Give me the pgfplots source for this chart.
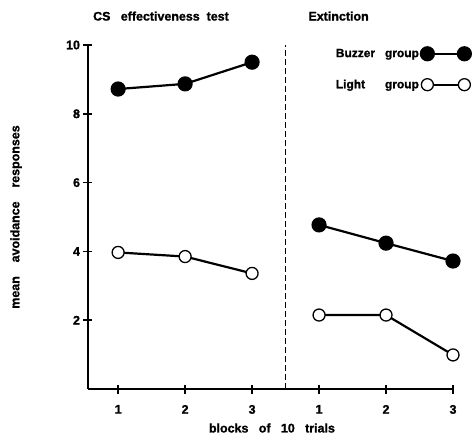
\documentclass[border=0pt]{standalone}
\usepackage{fontspec}
\setmainfont{Liberation Sans}[UprightFont={* Bold}, BoldFont={* Bold}, FakeBold=1.2]
\usepackage{pgfplots}
\pgfplotsset{compat=1.18}
\usetikzlibrary{calc}

\begin{document}
\begin{tikzpicture}
\begin{axis}[
  scale only axis, width=365bp, height=344bp,
  xmin=0.55, xmax=6, ymin=0, ymax=10,
  axis lines*=left, axis line style={line width=2.2pt, -},
  xtick={1,...,6}, xticklabels={1,2,3,1,2,3},
  ytick={2,4,6,8,10},
  tick align=center, major tick length=9bp, tick style={line width=1.6pt, black},
  ticklabel style={font=\fontsize{12.5}{12.5}\selectfont},
  /pgf/number format/assume math mode=true,
  xticklabel style={yshift=-8bp},
  ylabel={mean\ \ \ \ avoidance\ \ \ \ responses},
  ylabel style={font=\fontsize{12.5}{12.5}\selectfont, at={(rel axis cs:-0.197,0.5)}, anchor=center},
  xlabel={blocks\ \ \ of\ \ \ 10\ \ \ trials},
  xlabel style={font=\fontsize{12.5}{12.5}\selectfont, at={(rel axis cs:0.504,0)}, yshift=-39bp, anchor=center},
  clip=false,
  legend style={draw=none, fill=none, inner sep=0pt, at={(axis cs:6.27,9.95)}, anchor=north east,
    font=\fontsize{12}{12}\selectfont, row sep=17bp, cells={anchor=west}},
  legend plot pos=right,
  legend image code/.code={\hspace*{3bp}\draw[#1] plot coordinates {(3bp,0bp) (40bp,0bp)};},
]
\addplot[black, line width=2.2pt, mark=*, mark size=6.5bp, mark options={solid, fill=black}]
  coordinates {(1,8.72) (2,8.87) (3,9.50)};
\addlegendentry{Buzzer\ \ \ group}
\addplot[black, line width=2.2pt, mark=*, mark size=6bp, mark options={solid, fill=white, line width=1.3pt}]
  coordinates {(1,3.97) (2,3.85) (3,3.36)};
\addlegendentry{Light\ \ \ \ \ \ group}
\addplot[black, line width=2.2pt, mark=*, mark size=6.5bp, mark options={solid, fill=black}, forget plot]
  coordinates {(4,4.77) (5,4.24) (6,3.72)};
\addplot[black, line width=2.2pt, mark=*, mark size=6bp, mark options={solid, fill=white, line width=1.3pt}, forget plot]
  coordinates {(4,2.15) (5,2.15) (6,0.99)};
\draw[dashed, line width=0.9pt, dash pattern=on 6bp off 3bp] (axis cs:3.5,0) -- (axis cs:3.5,10);
\node[font=\fontsize{12.5}{12.5}\selectfont] at (axis cs:1.64,10.84) {CS\ \ \ effectiveness\ \ test};
\node[font=\fontsize{12.5}{12.5}\selectfont, anchor=west] at (axis cs:3.79,10.84) {Extinction};
\coordinate (bl) at (rel axis cs:0,0);
\end{axis}
\pgfresetboundingbox
\path[use as bounding box] ($(bl)+(-88bp,-48bp)$) rectangle ($(bl)+(388bp,389bp)$);
\end{tikzpicture}
\end{document}
